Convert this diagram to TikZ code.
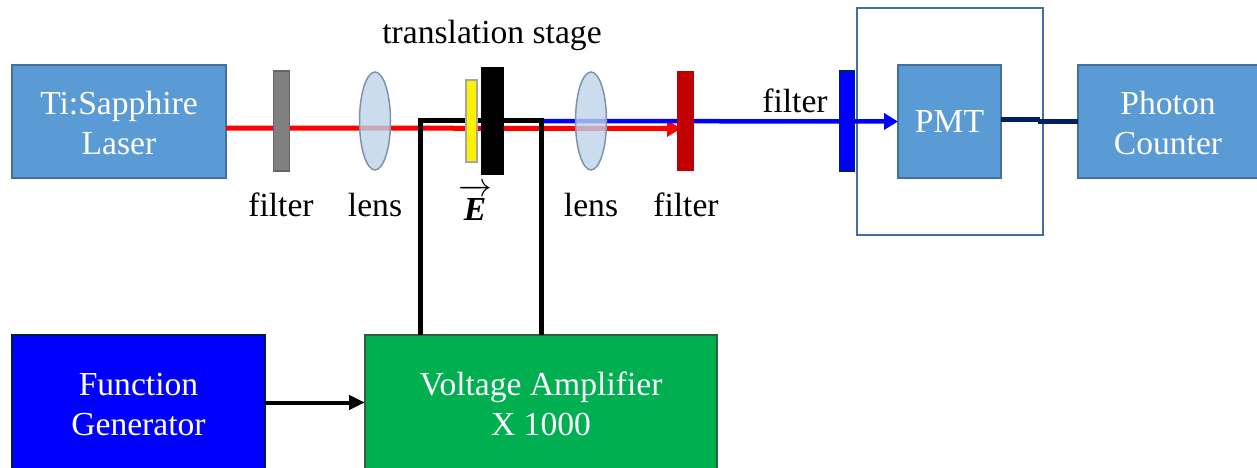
\documentclass[tikz,border=0pt]{standalone}
\usepackage{fix-cm}
\usepackage{fontspec}
\setmainfont{Liberation Serif}
\usetikzlibrary{arrows.meta,shapes.geometric}
\definecolor{boxblue}{HTML}{5B9BD5}
\definecolor{boxedge}{HTML}{41719C}
\definecolor{lensfill}{HTML}{BDD3E9}
\definecolor{lensedge}{HTML}{7F93AB}
\definecolor{navyline}{HTML}{002060}
\definecolor{ampgreen}{HTML}{00B050}
\definecolor{ampedge}{HTML}{2F5F3F}
\definecolor{filtred}{HTML}{C00000}
\newcommand{\lowtext}[2][5pt]{\raisebox{-#1}[\height][\depth]{\begin{tabular}{@{}c@{}}#2\end{tabular}}}
\tikzset{
  every node/.style={font=\fontsize{33.6}{40}\selectfont, inner sep=0pt, outer sep=0pt, align=center},
  box/.style={draw=boxedge, fill=boxblue, line width=1.6pt, text=white, rectangle},
  plate/.style={rectangle, minimum width=16pt, minimum height=100pt},
  lensshape/.style={ellipse, draw=lensedge, fill=lensfill, fill opacity=.8, line width=1.5pt, minimum width=31pt, minimum height=98pt},
  beam/.style={line width=5pt},
  headtip/.style={-{Triangle[length=14pt,width=16pt]}},
  wire/.style={line width=5pt, black, line join=miter},
  label/.style={text=black}
}
\begin{document}
\begin{tikzpicture}[x=1pt,y=-1pt]
\useasboundingbox (0,0) rectangle (1257,468);
\clip (0,0) rectangle (1257,468);
% boxes
\node[box, minimum width=214pt, minimum height=113pt] (laser) at (119,121.5) {\lowtext{Ti:Sapphire\\Laser}};
\node[box, minimum width=180pt, minimum height=113pt] (counter) at (1168,121.5) {\lowtext{Photon\\Counter}};
\node[draw=boxedge, line width=1.6pt, rectangle, minimum width=186pt, minimum height=227pt] (enclosure) at (950,121.5) {};
\node[box, minimum width=103pt, minimum height=113pt] (pmt) at (949.5,121.5) {\lowtext[3.5pt]{PMT}};
\node[draw=navyline!80!black, fill=blue, line width=1.6pt, rectangle, text=white, minimum width=253pt, minimum height=135pt] (fgen) at (138.5,402.5) {\lowtext{Function\\Generator}};
\node[draw=ampedge, fill=ampgreen, line width=1.6pt, rectangle, text=white, minimum width=352pt, minimum height=135pt] (amp) at (541,402.5) {\lowtext{Voltage Amplifier\\X 1000}};
% named ends
\coordinate (redend) at (681,128.5);
\coordinate (wireL) at (420,121);
\coordinate (wireR) at (541,121);
\coordinate (navyjoin) at (1040,120);
\coordinate (navyjoinb) at (1038,122);
% beams
\draw[beam, red, headtip] ([yshift=-6.5pt]laser.east) -- (redend);
\draw[beam, blue, line width=4.5pt, headtip] (wireR) -- (pmt.west);
% wire
\draw[wire] (amp.north -| wireL) -- (wireL) -- (wireR) -- (amp.north -| wireR);
% optics
\node[plate, draw=black!60, fill=black!50, line width=1.2pt] (f1) at (281.5,121) {};
\node[lensshape] (l1) at (375,121) {};
\node[rectangle, draw=black!35, fill=yellow, line width=1.6pt, minimum width=11pt, minimum height=82pt] (sample) at (471.5,121) {};
\node[rectangle, fill=black, minimum width=23pt, minimum height=108pt] (stage) at (492.5,121) {};
\node[lensshape] (l2) at (591,121) {};
\node[plate, fill=filtred, minimum width=17pt] (f2) at (685.5,121) {};
\node[plate, draw=navyline, fill=blue, line width=1.2pt, minimum width=15pt] (f3) at (847,121) {};
% outputs
\draw[line width=5pt, navyline] (pmt.east |- navyjoin) -- (navyjoin);
\draw[line width=5pt, navyline] (navyjoinb) -- (counter.west |- navyjoinb);
\draw[line width=4pt, black, -{Triangle[length=16pt,width=14pt]}] (fgen.east) -- (amp.west);
% labels
\node[label] (ts) at (492,35.5) {translation stage};
\node[label] (lf1) at (281,205) {filter};
\node[label] (ll1) at (375,205) {lens};
\node[label] (le) at (475,202) {$\overrightarrow{\hbox{\rule{0pt}{25pt}\bfseries\itshape E}}$};
\node[label] (ll2) at (591,205) {lens};
\node[label] (lf2) at (686,205) {filter};
\node[label] (lf3) at (795,101) {filter};
\end{tikzpicture}
\end{document}
